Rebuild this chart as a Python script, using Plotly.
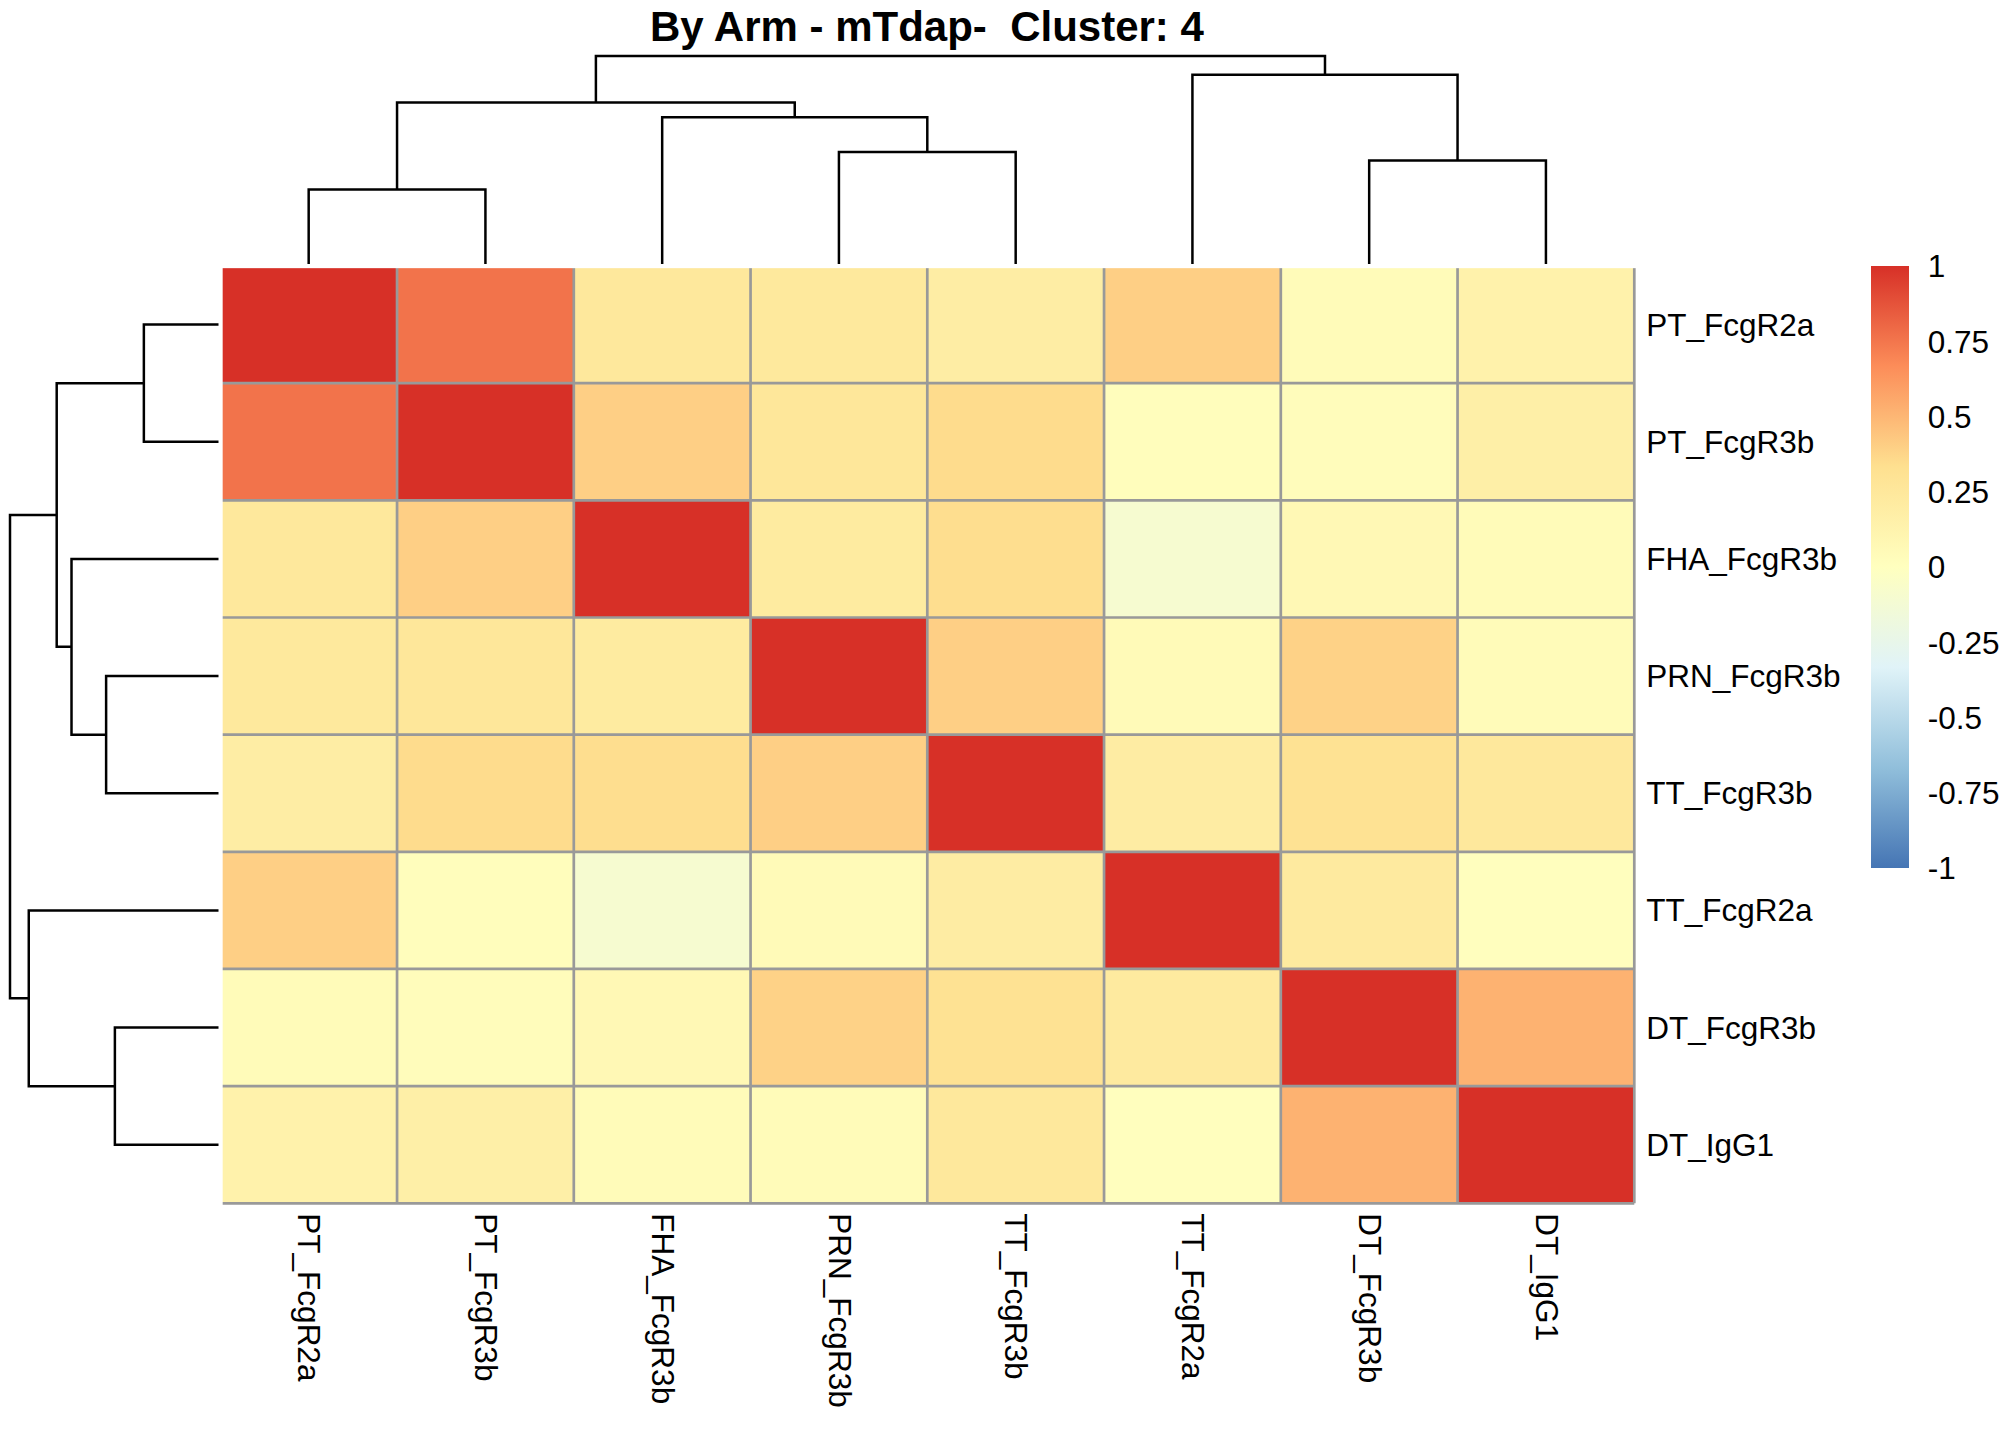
import plotly.graph_objects as go

# ---------------- data ----------------
labels = ["PT_FcgR2a", "PT_FcgR3b", "FHA_FcgR3b", "PRN_FcgR3b",
          "TT_FcgR3b", "TT_FcgR2a", "DT_FcgR3b", "DT_IgG1"]

r_PT_FcgR2a  = [1.00, 0.76, 0.25, 0.24, 0.19, 0.40, 0.04, 0.14]
r_PT_FcgR3b  = [0.76, 1.00, 0.40, 0.26, 0.35, 0.02, 0.03, 0.17]
r_FHA_FcgR3b = [0.25, 0.40, 1.00, 0.22, 0.34, -0.10, 0.07, 0.04]
r_PRN_FcgR3b = [0.24, 0.26, 0.22, 1.00, 0.40, 0.05, 0.39, 0.04]
r_TT_FcgR3b  = [0.19, 0.35, 0.34, 0.40, 1.00, 0.20, 0.31, 0.25]
r_TT_FcgR2a  = [0.40, 0.02, -0.10, 0.05, 0.20, 1.00, 0.23, 0.01]
r_DT_FcgR3b  = [0.04, 0.03, 0.07, 0.39, 0.31, 0.23, 1.00, 0.52]
r_DT_IgG1    = [0.14, 0.17, 0.04, 0.04, 0.25, 0.01, 0.52, 1.00]

# dendrogram (same clustering for rows and columns); nodes 0-7 are leaves
merge_left   = [0, 3, 6, 2, 8, 5, 12]
merge_right  = [1, 4, 7, 9, 11, 10, 13]
merge_height = [0.358, 0.539, 0.497, 0.705, 0.776, 0.910, 1.000]

legend_ticks = [-1, -0.75, -0.5, -0.25, 0, 0.25, 0.5, 0.75, 1]
legend_text = ["-1", "-0.75", "-0.5", "-0.25", "0", "0.25", "0.5", "0.75", "1"]

title = "By Arm - mTdap-\u00a0 Cluster: 4"

# ---------------- helpers ----------------
W, H = 2016, 1440
FONT = "Liberation Sans, Arial, sans-serif"


def px_x(p):
    return p / W


def px_y(p):
    return 1 - p / H


def dendro_segments(n_leaves):
    pos = list(range(n_leaves))
    hgt = [0.0] * n_leaves
    a, b = [], []  # a: leaf-position, b: height
    for l, r, h in zip(merge_left, merge_right, merge_height):
        pl, pr = pos[l], pos[r]
        hl, hr = hgt[l], hgt[r]
        a += [pl, pl, pr, pr, None]
        b += [hl, h, h, hr, None]
        pos.append((pl + pr) / 2)
        hgt.append(h)
    return a, b


z = [r_PT_FcgR2a, r_PT_FcgR3b, r_FHA_FcgR3b, r_PRN_FcgR3b,
     r_TT_FcgR3b, r_TT_FcgR2a, r_DT_FcgR3b, r_DT_IgG1]
n = len(labels)

colorscale = [[0.0, "#4575B4"], [1/6, "#91BFDB"], [2/6, "#E0F3F8"],
              [3/6, "#FFFFBF"], [4/6, "#FEE090"], [5/6, "#FC8D59"],
              [1.0, "#D73027"]]

# heatmap geometry (pixels, centres of the outer border lines)
hx0, hx1, hy0, hy1 = 220.3, 1634.3, 266.0, 1203.3
pad = 0.015
cw = (hx1 - hx0) / n
ch = (hy1 - hy0) / n

# colour bar geometry (pixels)
cb_x0, cb_x1, cb_y0, cb_y1 = 1871, 1909, 266.5, 868

fig = go.Figure()

fig.add_trace(go.Heatmap(
    z=z, x=list(range(n)), y=list(range(n)),
    colorscale=colorscale, zmin=-1, zmax=1,
    xaxis="x", yaxis="y", hoverinfo="skip",
    colorbar=dict(
        x=px_x(cb_x0), xanchor="left", xpad=0,
        y=px_y((cb_y0 + cb_y1) / 2), yanchor="middle", ypad=0,
        len=cb_y1 - cb_y0, lenmode="pixels",
        thickness=cb_x1 - cb_x0, thicknessmode="pixels",
        outlinewidth=0,
        tickvals=legend_ticks, ticktext=legend_text,
        ticks="outside", ticklen=13, tickcolor="rgba(0,0,0,0)",
        tickfont=dict(family=FONT, size=31.5, color="black"),
    ),
))

# cell borders
bx, by = [], []
for k in range(n + 1):
    v = k - 0.5
    bx += [v, v, None]
    by += [-0.5, n - 0.5, None]
    bx += [-0.5, n - 0.5, None]
    by += [v, v, None]
fig.add_trace(go.Scatter(x=bx, y=by, mode="lines",
                         line=dict(color="#999999", width=2.7),
                         xaxis="x", yaxis="y", hoverinfo="skip",
                         showlegend=False))

# top (column) dendrogram
sa, sb = dendro_segments(n)
fig.add_trace(go.Scatter(x=sa, y=sb, mode="lines",
                         line=dict(color="black", width=2.5),
                         xaxis="x2", yaxis="y2", hoverinfo="skip",
                         showlegend=False))
# left (row) dendrogram
fig.add_trace(go.Scatter(x=sb, y=sa, mode="lines",
                         line=dict(color="black", width=2.5),
                         xaxis="x3", yaxis="y3", hoverinfo="skip",
                         showlegend=False))

hx_dom = [px_x(hx0 - pad * cw), px_x(hx1 + pad * cw)]
hy_dom = [px_y(hy1 + pad * ch), px_y(hy0 - pad * ch)]
xr = [-0.5 - pad, n - 0.5 + pad]
yr = [n - 0.5 + pad, -0.5 - pad]

dpad = 0.02
# top dendrogram: height 0 -> y=264px, height 1 -> y=56px
t0, t1 = 264, 56
tspan = t0 - t1
# left dendrogram: height 0 -> x=218.5px, height 1 -> x=10px
l0, l1 = 218.5, 10
lspan = l0 - l1

hidden = dict(visible=False, showgrid=False, zeroline=False)

fig.update_layout(
    width=W, height=H,
    margin=dict(l=0, r=0, t=0, b=0),
    paper_bgcolor="white", plot_bgcolor="white",
    showlegend=False,
    font=dict(family=FONT, color="black"),
    xaxis=dict(domain=hx_dom, range=xr, tickvals=list(range(n)),
               ticktext=labels, tickangle=90, side="bottom",
               showgrid=False, zeroline=False, showline=False,
               ticks="outside", ticklen=1, tickcolor="rgba(0,0,0,0)",
               tickfont=dict(family=FONT, size=31.5, color="black"),
               fixedrange=True),
    yaxis=dict(domain=hy_dom, range=yr, tickvals=list(range(n)),
               ticktext=labels, side="right",
               showgrid=False, zeroline=False, showline=False,
               ticks="outside", ticklen=2, tickcolor="rgba(0,0,0,0)",
               tickfont=dict(family=FONT, size=31.5, color="black"),
               fixedrange=True),
    xaxis2=dict(domain=hx_dom, range=xr, anchor="y2", **hidden),
    yaxis2=dict(domain=[px_y(t0 + dpad * tspan), px_y(t1 - dpad * tspan)],
                range=[-dpad, 1 + dpad], anchor="x2", **hidden),
    xaxis3=dict(domain=[px_x(l1 - dpad * lspan), px_x(l0 + dpad * lspan)],
                range=[1 + dpad, -dpad], anchor="y3", **hidden),
    yaxis3=dict(domain=hy_dom, range=yr, anchor="x3", **hidden),
    annotations=[dict(
        text="<b>" + title + "</b>", x=px_x(927), y=px_y(26),
        xref="paper", yref="paper", xanchor="center", yanchor="middle",
        showarrow=False, font=dict(family=FONT, size=42, color="black"),
    )],
)

fig.write_html(
    "out.html",
    config={"displayModeBar": False},
    post_script="document.body.style.margin='0';document.body.style.padding='0';"
                "document.documentElement.style.overflow='hidden';",
)
